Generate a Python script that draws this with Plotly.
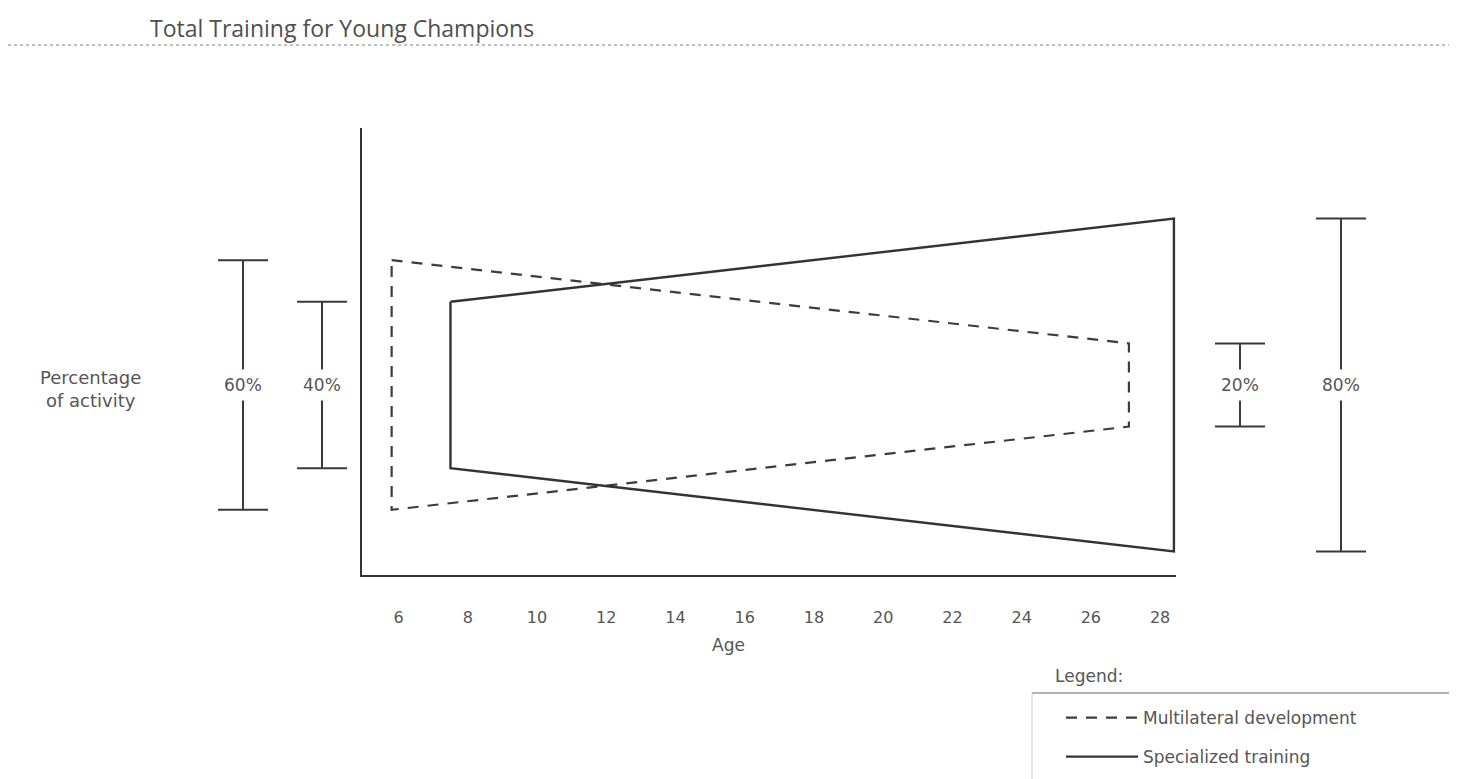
import plotly.graph_objects as go

# ---------------- data ----------------
title_text = "Total Training for Young Champions"
series_names = ["Multilateral development", "Specialized training"]
multi_ages = [5.8, 27.1]      # start / end age of multilateral band
multi_pct = [60, 20]          # share of activity at start / end
spec_ages = [7.5, 28.4]       # start / end age of specialized band
spec_pct = [40, 80]
tick_ages = [6, 8, 10, 12, 14, 16, 18, 20, 22, 24, 26, 28]
bracket_pct = [60, 40, 20, 80]
bracket_labels = ["60%", "40%", "20%", "80%"]

# ---------------- layout constants ----------------
OFF = 8                      # default page body margin
FW, FH = 1457 - OFF, 779 - OFF
px = lambda v: (v - OFF) / FW
py = lambda v: 1 - (v - OFF) / FH
bracket_xpos = [px(243), px(322), px(1240), px(1341)]
INK = "#333333"
TXT = "#555555"
FONT = "DejaVu Sans, Verdana, sans-serif"


def band(ages, pct):
    x = [ages[0], ages[1], ages[1], ages[0], ages[0]]
    y = [pct[0] / 2, pct[1] / 2, -pct[1] / 2, -pct[0] / 2, pct[0] / 2]
    return x, y


fig = go.Figure()

mx, my = band(multi_ages, multi_pct)
fig.add_trace(go.Scatter(x=mx, y=my, mode="lines", name=series_names[0],
                         line=dict(color="#3c3c3c", width=2.2, dash="11px,9px"),
                         legendgroup="a", hoverinfo="skip"))
sx, sy = band(spec_ages, spec_pct)
fig.add_trace(go.Scatter(x=sx, y=sy, mode="lines", name=series_names[1],
                         line=dict(color=INK, width=2.4),
                         legendgroup="b", hoverinfo="skip"))

# brackets (error bars) on an invisible full-width x axis sharing the y scale
fig.add_trace(go.Scatter(x=bracket_xpos, y=[0] * len(bracket_pct), xaxis="x2", yaxis="y",
                         mode="markers", marker=dict(size=1, color="white"),
                         error_y=dict(type="data", array=[p / 2 for p in bracket_pct],
                                      symmetric=True, color="#3a3a3a", thickness=2, width=25),
                         showlegend=False, hoverinfo="skip"))

annotations = []
for xp, lab in zip(bracket_xpos, bracket_labels):
    annotations.append(dict(x=xp, y=0, xref="paper", yref="y", xanchor="center", yanchor="middle",
                            text=lab, showarrow=False,
                            font=dict(family=FONT, size=17, color=TXT),
                            bgcolor="white", borderpad=5))

annotations += [
    dict(x=px(148), y=py(28), xref="paper", yref="paper", xanchor="left", yanchor="middle",
         text=title_text, showarrow=False,
         font=dict(family="Open Sans, sans-serif", size=23, color="#4f4f4f")),
    dict(x=px(90), y=py(389), xref="paper", yref="paper", xanchor="center", yanchor="middle",
         text="Percentage<br>of activity", showarrow=False, align="center",
         font=dict(family=FONT, size=18, color=TXT)),
    dict(x=px(728), y=py(645), xref="paper", yref="paper", xanchor="center", yanchor="middle",
         text="Age", showarrow=False, font=dict(family=FONT, size=17, color=TXT)),
    dict(x=px(1053), y=py(676), xref="paper", yref="paper", xanchor="left", yanchor="middle",
         text="Legend:", showarrow=False, font=dict(family=FONT, size=17, color=TXT)),
]

shapes = [
    dict(type="line", xref="paper", yref="paper", x0=0, x1=1, y0=py(45), y1=py(45),
         line=dict(color="#aaaaaa", width=1.5, dash="dot")),
    dict(type="line", xref="paper", yref="paper", x0=px(1032), x1=1, y0=py(693), y1=py(693),
         line=dict(color="#999999", width=1.5)),
    dict(type="line", xref="paper", yref="paper", x0=px(1032), x1=px(1032), y0=py(693), y1=0,
         line=dict(color="#cccccc", width=1)),
]

fig.update_layout(
    width=FW, height=FH,
    margin=dict(l=0, r=0, t=0, b=0),
    paper_bgcolor="white", plot_bgcolor="rgba(0,0,0,0)",
    xaxis=dict(domain=[px(362), px(1176)], range=[4.944, 28.46], showgrid=False, zeroline=False,
               showline=True, linecolor=INK, linewidth=2,
               tickvals=tick_ages, ticktext=[str(t) for t in tick_ages],
               ticks="outside", ticklen=27, tickcolor="rgba(0,0,0,0)",
               tickfont=dict(family=FONT, size=16, color=TXT)),
    yaxis=dict(domain=[py(575), py(128)], range=[-45.67, 61.78], showgrid=False, zeroline=False,
               showline=True, linecolor=INK, linewidth=2, showticklabels=False, ticks=""),
    xaxis2=dict(domain=[0, 1], range=[0, 1], anchor="y", visible=False),
    showlegend=True,
    legend=dict(x=px(1061), y=py(700), xanchor="left", yanchor="top",
                bgcolor="rgba(0,0,0,0)", itemwidth=72, traceorder="grouped", tracegroupgap=14,
                font=dict(family=FONT, size=17, color=TXT)),
    annotations=annotations, shapes=shapes,
)

fig.write_html("out.html")
